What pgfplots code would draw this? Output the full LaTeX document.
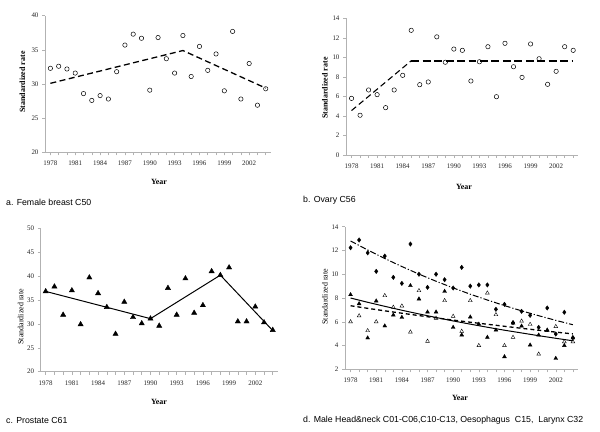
\documentclass[border=0pt]{standalone}
\usepackage{fontspec}
\setmainfont{Liberation Serif}
\newfontfamily\arial{Liberation Sans}
\usepackage{pgfplots}
\pgfplotsset{compat=1.18}
\pgfplotsset{
  panel/.style={
    scale only axis, anchor=south west,
    axis x line*=bottom, axis y line*=left,
    axis line style={gray!60, line width=0.6pt, -},
    xmin=1977.35, xmax=2004.6,
    xtick={1978,1981,...,2002},
    minor xtick={1978,...,2004},
    tick align=outside,
    major tick length=3bp, minor tick length=3bp,
    every tick/.style={gray!60, line width=0.5pt},
    tick label style={font=\fontsize{7}{8}\selectfont, text=black!85},
    xticklabel style={yshift=-2.5bp},
    /pgf/number format/1000 sep={},
    /pgf/number format/assume math mode=true,
    clip=false,
  },
  circ/.style={only marks, mark=o, mark size=2.2bp, mark options={black, line width=0.5pt, fill=white}},
}
\begin{document}
\begin{tikzpicture}
\useasboundingbox (0,0) rectangle (600bp,-432bp);

% ---------- a. Female breast ----------
\begin{axis}[panel, at={(45bp,-152.3bp)}, width=225.7bp, height=136.6bp,
  ymin=20, ymax=40, ytick={20,25,...,40}]
\addplot[circ] coordinates {
(1978,32.3)(1979,32.6)(1980,32.2)(1981,31.6)(1982,28.6)(1983,27.6)(1984,28.3)
(1985,27.8)(1986,31.8)(1987,35.7)(1988,37.3)(1989,36.7)(1990,29.1)(1991,36.8)
(1992,33.7)(1993,31.6)(1994,37.1)(1995,31.1)(1996,35.5)(1997,32.0)(1998,34.4)
(1999,29.0)(2000,37.7)(2001,27.8)(2002,33.0)(2003,26.9)(2004,29.3)};
\addplot[black, line width=1.3pt, dash pattern=on 6pt off 3.5pt] coordinates {
(1978,30.1)(1994,34.9)(2004,29.4)};
\end{axis}

% ---------- b. Ovary ----------
\begin{axis}[panel, at={(346bp,-155bp)}, width=232.3bp, height=136.7bp,
  ymin=0, ymax=14, ytick={0,2,...,14}]
\addplot[circ] coordinates {
(1978,5.8)(1979,4.07)(1980,6.66)(1981,6.18)(1982,4.85)(1983,6.66)(1984,8.16)
(1985,12.77)(1986,7.2)(1987,7.48)(1988,12.1)(1989,9.5)(1990,10.85)(1991,10.72)
(1992,7.58)(1993,9.55)(1994,11.09)(1995,5.97)(1996,11.44)(1997,9.04)(1998,7.95)
(1999,11.37)(2000,9.86)(2001,7.24)(2002,8.57)(2003,11.09)(2004,10.72)};
\addplot[black, line width=1.1pt, dash pattern=on 6pt off 3.5pt] coordinates {
(1978,4.55)(1985,9.65)};
\addplot[black, line width=1.5pt, dash pattern=on 8pt off 3.5pt] coordinates {
(1985,9.65)(2004,9.65)};
\end{axis}

% ---------- c. Prostate ----------
\begin{axis}[panel, at={(40.7bp,-371.7bp)}, width=237.3bp, height=143.4bp,
  xmin=1977.43, ymin=20, ymax=50, ytick={20,25,...,50}]
\addplot[only marks, mark=triangle*, mark size=3bp, mark options={black}] coordinates {
(1978,36.8)(1979,37.8)(1980,31.9)(1981,37.0)(1982,29.9)(1983,39.7)(1984,36.4)
(1985,33.5)(1986,27.9)(1987,34.6)(1988,31.4)(1989,30.1)(1990,31.1)(1991,29.6)
(1992,37.5)(1993,31.9)(1994,39.5)(1995,32.3)(1996,33.9)(1997,41.0)(1998,40.2)
(1999,41.8)(2000,30.5)(2001,30.5)(2002,33.6)(2003,30.3)(2004,28.7)};
\addplot[black, line width=1pt] coordinates {
(1978,36.8)(1990,31.1)(1998,40.2)(2004,28.6)};
\end{axis}

% ---------- d. Male head & neck ----------
\begin{axis}[panel, at={(345bp,-369.3bp)}, width=233bp, height=142.6bp,
  ymin=2, ymax=14, ytick={2,4,...,14}]
\addplot[only marks, mark=diamond*, mark size=2.2bp, mark options={black}] coordinates {
(1978,12.23)(1979,12.88)(1980,11.8)(1981,10.24)(1982,11.53)(1983,9.74)(1984,9.23)
(1985,12.54)(1986,10.0)(1987,8.9)(1988,10.0)(1989,9.54)(1990,8.84)(1991,10.58)
(1992,9.0)(1993,9.1)(1994,9.1)(1995,7.05)(1996,7.47)(1997,5.93)(1998,6.88)
(1999,6.54)(2000,5.53)(2001,7.16)(2002,4.97)(2003,6.8)(2004,4.66)};
\addplot[only marks, mark=triangle, mark size=2.2bp, mark options={black, line width=0.4pt}] coordinates {
(1978,6.0)(1979,6.5)(1980,5.25)(1981,6.0)(1982,8.2)(1983,7.22)(1984,7.33)
(1985,5.14)(1986,8.62)(1987,4.36)(1988,6.3)(1989,7.78)(1990,6.46)(1991,5.2)
(1992,7.78)(1993,4.0)(1994,8.42)(1995,6.6)(1996,4.0)(1997,4.69)(1998,6.06)
(1999,5.78)(2000,3.28)(2001,5.25)(2002,5.6)(2003,4.32)(2004,4.32)};
\addplot[only marks, mark=triangle*, mark size=2.2bp, mark options={black}] coordinates {
(1978,8.28)(1979,7.52)(1980,4.64)(1981,7.75)(1982,5.65)(1983,6.57)(1984,6.37)
(1985,9.04)(1986,7.92)(1987,6.82)(1988,6.82)(1989,8.56)(1990,5.53)(1991,4.89)
(1992,6.4)(1993,5.8)(1994,4.69)(1995,5.3)(1996,3.06)(1997,5.9)(1998,5.64)
(1999,4.04)(2000,4.88)(2001,5.3)(2002,2.92)(2003,4.0)(2004,4.64)};
\addplot[black, line width=1pt, dash pattern=on 6pt off 2pt on 1.2pt off 2pt] coordinates {
(1978,12.8)(1980,12.04)(1982,11.32)(1984,10.65)(1986,10.01)(1988,9.41)(1990,8.85)
(1992,8.32)(1994,7.83)(1996,7.36)(1998,6.92)(2000,6.51)(2002,6.12)(2004,5.75)};
\addplot[black, line width=1.3pt, dash pattern=on 4pt off 3pt] coordinates {
(1978,7.35)(1980,7.13)(1982,6.92)(1984,6.72)(1986,6.52)(1988,6.33)(1990,6.14)
(1992,5.96)(1994,5.79)(1996,5.62)(1998,5.45)(2000,5.29)(2002,5.13)(2004,4.98)};
\addplot[black, line width=1pt] coordinates {
(1978,8.0)(1980,7.64)(1982,7.30)(1984,6.97)(1986,6.66)(1988,6.36)(1990,6.07)
(1992,5.80)(1994,5.54)(1996,5.29)(1998,5.06)(2000,4.83)(2002,4.61)(2004,4.40)};
\end{axis}

% ---------- labels ----------
\node[rotate=90, font=\bfseries\fontsize{8}{9}\selectfont] at (22.5bp,-82bp) {Standardized rate};
\node[rotate=90, font=\bfseries\fontsize{8}{9}\selectfont] at (325bp,-88bp) {Standardized rate};
\node[rotate=90, font=\fontsize{8}{9}\selectfont] at (20.7bp,-316.7bp) {Standardized rate};
\node[rotate=90, font=\fontsize{8}{9}\selectfont] at (325bp,-296.7bp) {Standardized rate};

\node[font=\bfseries\fontsize{8}{9}\selectfont] at (159bp,-181.7bp) {Year};
\node[font=\bfseries\fontsize{8}{9}\selectfont] at (464bp,-187.3bp) {Year};
\node[font=\bfseries\fontsize{8}{9}\selectfont] at (159bp,-401.7bp) {Year};
\node[font=\bfseries\fontsize{8}{9}\selectfont] at (460bp,-398.3bp) {Year};

\node[anchor=west, inner sep=0pt, font=\arial\fontsize{8.8}{10}\selectfont] at (6bp,-202.3bp) {a. Female breast C50};
\node[anchor=west, inner sep=0pt, font=\arial\fontsize{8.8}{10}\selectfont] at (303bp,-200bp) {b. Ovary C56};
\node[anchor=west, inner sep=0pt, font=\arial\fontsize{8.8}{10}\selectfont] at (6bp,-420.7bp) {c. Prostate C61};
\node[anchor=west, inner sep=0pt, font=\arial\fontsize{8.8}{10}\selectfont] at (303bp,-420bp) {d. Male Head\&neck C01-C06,C10-C13, Oesophagus\ \ C15,\ \ Larynx C32};
\end{tikzpicture}
\end{document}
